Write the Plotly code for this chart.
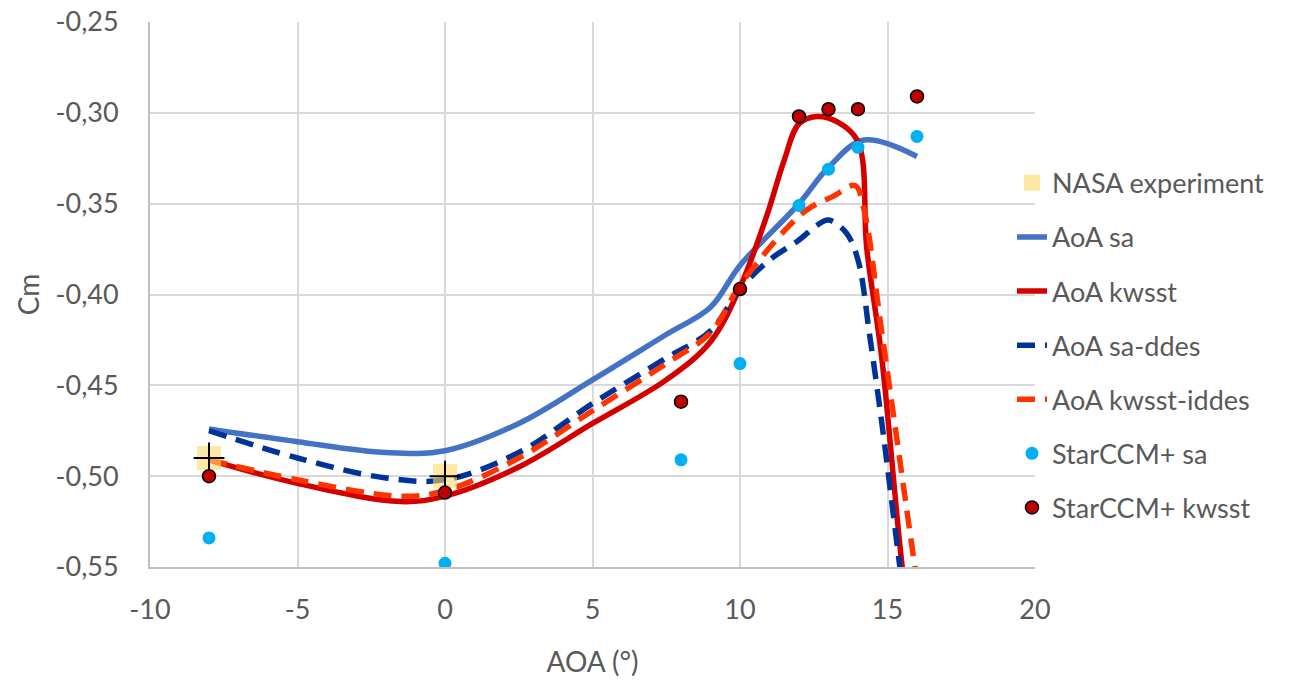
import plotly.graph_objects as go

# ---------------- data ----------------
nasa_x = [-8, 0]
nasa_y = [-0.490, -0.500]

sa_x = [-8, -5, -2, 0, 2.5, 5, 7.5, 9, 10, 12, 13, 14.2, 16]
sa_y = [-0.474, -0.481, -0.487, -0.486, -0.471, -0.447, -0.422, -0.407, -0.384, -0.350, -0.330, -0.315, -0.324]

kw_x = [-8, -5, -1.5, 0, 2.5, 5, 7.5, 9, 10, 10.9, 11.5, 12, 12.6, 13.3, 14, 14.3, 14.8, 15.5, 16]
kw_y = [-0.491, -0.504, -0.514, -0.511, -0.495, -0.471, -0.447, -0.426, -0.396, -0.357, -0.326, -0.306, -0.302, -0.305, -0.316, -0.375, -0.434, -0.550, -0.610]

sadd_x = [-8, -5, -2, 0, 2.5, 5, 7.5, 9, 10, 11, 12, 12.6, 13, 13.6, 14, 14.4, 14.85, 15.42, 16]
sadd_y = [-0.475, -0.490, -0.501, -0.502, -0.487, -0.460, -0.435, -0.420, -0.397, -0.381, -0.370, -0.362, -0.359, -0.366, -0.381, -0.423, -0.476, -0.550, -0.620]

kwid_x = [-8, -5, -1.5, 0, 2.5, 5, 7.5, 9, 10, 11.5, 12.3, 13.15, 13.9, 14.2, 14.8, 15.93, 16.3]
kwid_y = [-0.491, -0.502, -0.511, -0.508, -0.490, -0.464, -0.438, -0.421, -0.395, -0.365, -0.353, -0.346, -0.340, -0.353, -0.420, -0.550, -0.590]

star_x = [-8, 0, 8, 10, 12, 13, 14, 16]
star_sa_y = [-0.534, -0.548, -0.491, -0.438, -0.351, -0.331, -0.319, -0.313]
star_kw_y = [-0.500, -0.509, -0.459, -0.397, -0.302, -0.298, -0.298, -0.291]

x_ticks = [-10, -5, 0, 5, 10, 15, 20]
x_tick_labels = ["-10", "-5", "0", "5", "10", "15", "20"]
y_ticks = [-0.55, -0.50, -0.45, -0.40, -0.35, -0.30, -0.25]
y_tick_labels = ["-0,55", "-0,50", "-0,45", "-0,40", "-0,35", "-0,30", "-0,25"]

# ---------------- figure ----------------
FONT = "Lato, 'Open Sans', sans-serif"
GREY = "#595959"
LW = 5.5

fig = go.Figure()

fig.add_trace(go.Scatter(x=sa_x, y=sa_y, mode="lines", name="AoA sa", legendgroup="g2", legendrank=2,
                         line=dict(color="#4472C4", width=LW, shape="spline")))
fig.add_trace(go.Scatter(x=kw_x, y=kw_y, mode="lines", name="AoA kwsst", legendgroup="g3", legendrank=3,
                         line=dict(color="#D40000", width=LW, shape="spline")))
fig.add_trace(go.Scatter(x=sadd_x, y=sadd_y, mode="lines", name="AoA sa-ddes", legendgroup="g4", legendrank=4,
                         line=dict(color="#003399", width=LW, shape="spline", dash="18px,10px")))
fig.add_trace(go.Scatter(x=kwid_x, y=kwid_y, mode="lines", name="AoA kwsst-iddes", legendgroup="g5", legendrank=5,
                         line=dict(color="#FF3300", width=LW, shape="spline", dash="18px,10px")))

fig.add_trace(go.Scatter(x=nasa_x, y=nasa_y, mode="markers", name="NASA experiment", legendgroup="g1", legendrank=1,
                         marker=dict(symbol="square", size=24, color="rgba(255,217,102,0.6)",
                                     line=dict(width=0))))
fig.add_trace(go.Scatter(x=nasa_x, y=nasa_y, mode="markers", name="NASA experiment", legendgroup="g1",
                         showlegend=False,
                         marker=dict(symbol="cross-thin", size=22, color="black",
                                     line=dict(width=2, color="black"))))

fig.add_trace(go.Scatter(x=star_x, y=star_sa_y, mode="markers", name="StarCCM+ sa", legendgroup="g6", legendrank=6,
                         marker=dict(symbol="circle", size=13, color="#00B0F0", line=dict(width=0))))
fig.add_trace(go.Scatter(x=star_x, y=star_kw_y, mode="markers", name="StarCCM+ kwsst", legendgroup="g7", legendrank=7,
                         marker=dict(symbol="circle", size=13, color="#C00000", line=dict(width=1.5, color="black"))))

fig.update_layout(
    width=1299, height=684,
    margin=dict(l=150, r=264, t=22, b=117, autoexpand=False),
    paper_bgcolor="white", plot_bgcolor="white",
    font=dict(family=FONT, size=27, color=GREY),
    separators=", ",
    showlegend=True,
    legend=dict(x=0.974, y=0.749, xanchor="left", yanchor="top",
                font=dict(family=FONT, size=27, color=GREY),
                tracegroupgap=16, traceorder="grouped",
                bgcolor="rgba(0,0,0,0)"),
    xaxis=dict(range=[-10, 20], tickvals=x_ticks, ticktext=x_tick_labels,
               showgrid=True, gridcolor="#D9D9D9", gridwidth=2,
               showline=True, linecolor="#BFBFBF", linewidth=2,
               zeroline=False, ticks="", ticklabelstandoff=18, automargin=False,
               ticklabeloverflow="allow",
               tickfont=dict(family=FONT, size=27, color=GREY),
               title=dict(text="AOA (°)", font=dict(family=FONT, size=28, color=GREY), standoff=28)),
    yaxis=dict(range=[-0.55, -0.25], tickvals=y_ticks, ticktext=y_tick_labels,
               showgrid=True, gridcolor="#D9D9D9", gridwidth=2,
               showline=True, linecolor="#BFBFBF", linewidth=2,
               zeroline=False, ticks="", ticklabelstandoff=24, automargin=False,
               ticklabeloverflow="allow",
               tickfont=dict(family=FONT, size=27, color=GREY),
               title=dict(text="Cm", font=dict(family=FONT, size=28, color=GREY), standoff=8)),
)

fig.write_html("out.html", config={"displayModeBar": False},
               post_script="document.body.style.margin='0';")
